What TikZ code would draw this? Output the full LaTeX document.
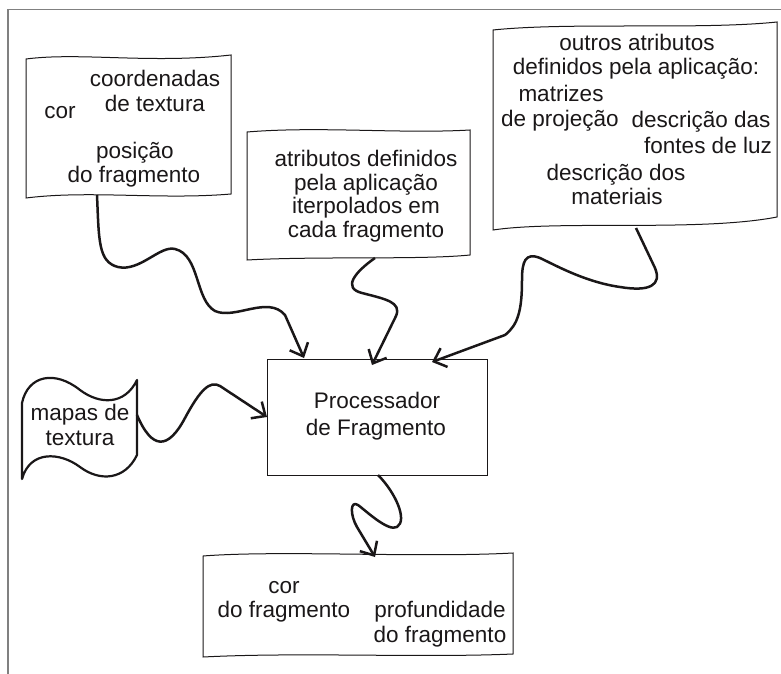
\documentclass[tikz,border=0pt]{standalone}
\usepackage{fontspec}
\setmainfont{Liberation Sans}
\usetikzlibrary{arrows.meta}
\definecolor{ink}{HTML}{1A1718}
\definecolor{framegray}{HTML}{808080}
\begin{document}
\begin{tikzpicture}[x=1pt,y=-1pt,
  txt/.style={font=\fontsize{22.5}{24}\selectfont, text=ink, inner sep=0pt, anchor=base},
  docbox/.style={draw=ink, line width=1pt},
  blob/.style={draw=ink, line width=2.2pt, line join=round},
  flow/.style={draw=ink, line width=2.5pt, line join=round, -{Straight Barb[length=11pt,width=20pt]}},
  frameline/.style={draw=framegray, line width=1.5pt}
 ]
\useasboundingbox (0,0) rectangle (781,674);
% frame
\draw[frameline] (8,674) -- (8,9.5) -- (781,9.5);

% box 1
\draw[docbox] (26,59) .. controls (80,52) and (150,64) .. (231,55) -- (231,194)
  .. controls (160,200) and (90,190) .. (26,198) -- cycle;
\node[txt] (t1a) at (155,87) {coordenadas};
\node[txt] (t1b) at (155,111) {de textura};
\node[txt] (t1c) at (60,119) {cor};
\node[txt] (t1d) at (135,158) {posição};
\node[txt] (t1e) at (134,182) {do fragmento};

% box 2
\draw[docbox] (247,132) .. controls (320,126) and (400,134) .. (470,130) -- (470,255)
  .. controls (420,260) and (320,256) .. (247,260) -- cycle;
\node[txt] (t2a) at (366,166) {atributos definidos};
\node[txt] (t2b) at (366,190) {pela aplicação};
\node[txt] (t2c) at (366,213) {iterpolados em};
\node[txt] (t2d) at (366,237) {cada fragmento};

% box 3
\draw[docbox] (493,30) .. controls (570,22) and (700,30) .. (777,22) -- (777,217)
  .. controls (700,232) and (560,220) .. (493,230) -- cycle;
\node[txt] (t3a) at (637,51) {outros atributos};
\node[txt] (t3b) at (636,75) {definidos pela aplicação:};
\node[txt] (t3c) at (561,102) {matrizes};
\node[txt] (t3d) at (560,127) {de projeção};
\node[txt] (t3e) at (701,128) {descrição das};
\node[txt] (t3f) at (708,153) {fontes de luz};
\node[txt] (t3g) at (616,180) {descrição dos};
\node[txt] (t3h) at (617,204) {materiais};

% mapas de textura
\draw[blob] (22,403) .. controls (28,375) and (55,370) .. (80,390)
  .. controls (100,405) and (125,405) .. (137,380) -- (137,455)
  .. controls (125,480) and (100,482) .. (80,467)
  .. controls (60,452) and (30,450) .. (22,479) -- cycle;
\node[txt] (t4a) at (80,420) {mapas de};
\node[txt] (t4b) at (80,445) {textura};

% processor
\node[draw=ink, line width=0.8pt, minimum width=220pt, minimum height=116pt, inner sep=0pt]
  (proc) at (377,417) {};
\node[txt] (t5a) at (377,408) {Processador};
\node[txt] (t5b) at (376,435) {de Fragmento};

% bottom box
\draw[docbox] (203,556) .. controls (280,550) and (420,558) .. (513,553) -- (513,654)
  .. controls (420,658) and (300,652) .. (203,657) -- cycle;
\node[txt] (t6a) at (284,593) {cor};
\node[txt] (t6b) at (284,617) {do fragmento};
\node[txt] (t6c) at (440,617) {profundidade};
\node[txt] (t6d) at (440,642) {do fragmento};

% connector end points
\coordinate (b1out) at (97,195);
\coordinate (b2out) at (375,258);
\coordinate (b3out) at (636,228);
\coordinate (mapout) at (137,415);
\coordinate (procout) at (378,475);
\coordinate (inA) at (267,417);
\coordinate (inB) at (304,358);
\coordinate (inC) at (372,365);
\coordinate (inD) at (432,362);
\coordinate (inE) at (375,557);

% connectors
\draw[flow] (mapout) .. controls (152,450) and (168,450) .. (185,418)
  .. controls (200,390) and (210,380) .. (220,386) -- (inA);
\draw[flow] (b1out) .. controls (99,240) and (98,262) .. (118,267)
  .. controls (140,272) and (160,245) .. (175,249)
  .. controls (200,255) and (195,300) .. (215,311)
  .. controls (235,320) and (268,295) .. (285,315) -- (inB);
\draw[flow] (b2out) .. controls (355,272) and (342,288) .. (362,293)
  .. controls (385,299) and (402,302) .. (396,316) -- (inC);
\draw[flow] (b3out) -- (655,268) .. controls (662,285) and (650,292) .. (620,287)
  .. controls (585,282) and (555,265) .. (540,258)
  .. controls (525,252) and (522,262) .. (522,280)
  .. controls (522,310) and (518,325) .. (505,335) -- (inD);
\draw[flow] (procout) .. controls (395,492) and (408,520) .. (397,527)
  .. controls (388,532) and (365,510) .. (358,505)
  .. controls (350,500) and (350,515) .. (357,527) -- (inE);
\end{tikzpicture}
\end{document}
